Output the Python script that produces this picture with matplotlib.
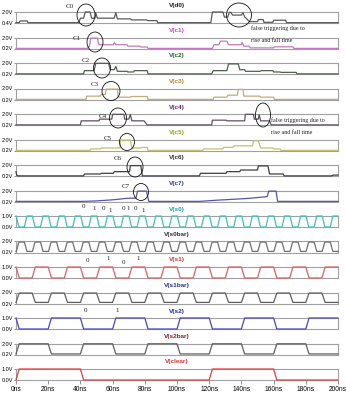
import matplotlib
matplotlib.use("Agg")
import matplotlib.pyplot as plt
from matplotlib.patches import Ellipse

plt.rcParams['font.family'] = ['Liberation Sans Narrow', 'Liberation Sans', 'DejaVu Sans']

W, H = 346, 400
X0, X1 = 16, 338          # pixel span of 0..200 ns
TOP0, STEP, BOX_H = 12, 25.5, 11

# decoder outputs, (ns, V) breakpoints
d0_t = [0, 2, 2.5, 7, 7.5, 39, 40, 42, 43, 46, 47, 49, 49.5, 50.5, 51, 61, 62, 63, 71, 72, 81, 82, 87.5, 88,
        121, 122, 128.5, 129.5, 131.5, 132.5, 133.5, 134.5, 140, 141, 142, 145, 150, 150.5, 153.5, 154,
        159.5, 160, 167.5, 168, 200]
d0_v = [0.45, 0.45, 0.7, 0.7, 0.45, 0.45, 1.1, 1.1, 2.0, 2.0, 1.1, 1.1, 1.9, 1.1, 1.1, 1.1, 1.9, 1.0, 1.0, 0.85,
        0.85, 0.75, 0.75, 0.45, 0.45, 2.0, 2.0, 1.25, 1.25, 1.95, 1.95, 1.55, 1.55, 1.9, 1.3, 0.6, 0.6, 0.9,
        0.9, 0.5, 0.5, 0.8, 0.8, 0.45, 0.45]

c1_t = [0, 44.5, 45, 45.5, 46.5, 50.5, 51.5, 60.5, 61, 62, 69, 69.5, 77, 77.5, 81.5, 82, 122, 123, 126, 127,
        131, 132, 140, 140.5, 141.5, 145, 145.5, 160, 160.5, 172, 172.5, 200]
c1_v = [0.22, 0.22, 0.45, 0.45, 1.9, 1.9, 0.82, 0.82, 1.2, 0.82, 0.82, 0.58, 0.58, 0.44, 0.44, 0.22, 0.22,
        0.82, 0.82, 1.4, 1.4, 0.82, 0.82, 1.2, 0.58, 0.58, 0.3, 0.3, 0.48, 0.48, 0.22, 0.22]

c2_t = [0, 42, 42.5, 48.5, 49.5, 57.5, 58.5, 61, 62, 63, 69, 69.5, 73, 73.5, 81.5, 82, 121.5, 122.5, 131, 132,
        138, 139, 142, 142.5, 151.5, 152.5, 159.5, 160, 164, 164.5, 174, 174.5, 200]
c2_v = [0.22, 0.22, 0.75, 0.75, 1.95, 1.95, 0.91, 0.91, 1.45, 0.64, 0.64, 0.53, 0.53, 0.75, 0.75, 0.22, 0.22,
        0.75, 0.75, 1.85, 1.85, 0.91, 0.91, 0.64, 0.64, 0.75, 0.75, 0.53, 0.53, 0.47, 0.47, 0.22, 0.22]

c3_t = [0, 43.5, 44, 52.5, 53, 55.5, 56, 63, 63.5, 71, 71.5, 81.5, 82, 122.5, 123, 131, 131.5, 137.5, 138,
        141, 141.5, 151.5, 152, 160, 160.5, 200]
c3_v = [0.22, 0.22, 0.75, 0.75, 1.02, 1.02, 1.9, 1.9, 0.58, 0.58, 0.69, 0.69, 0.22, 0.22, 0.58, 0.58, 0.91,
        0.91, 1.85, 1.85, 0.75, 0.75, 0.58, 0.58, 0.22, 0.22]

c4_t = [0, 40, 40.5, 51.5, 52, 59.5, 60, 67, 67.5, 70, 71, 72, 79.5, 81.5, 121.5, 122, 130.5, 131, 142, 142.5,
        147.5, 148, 150.5, 151, 152, 157.5, 158.5, 200]
c4_v = [0.22, 0.22, 0.88, 0.88, 1.16, 1.16, 1.95, 1.95, 1.16, 1.16, 1.9, 0.88, 0.88, 0.22, 0.22, 0.99, 0.99,
        0.88, 0.88, 1.95, 1.95, 1.16, 1.16, 1.9, 0.88, 0.88, 0.22, 0.22]

c5_t = [0, 46, 46.5, 52.5, 53, 64.5, 65, 71, 72, 77.5, 78, 81.5, 82, 116, 116.5, 128.5, 129, 135, 135.5, 147,
        147.5, 150.5, 152, 159.5, 160, 164, 164.5, 200]
c5_v = [0.22, 0.22, 0.46, 0.46, 0.61, 0.61, 1.9, 1.9, 0.61, 0.61, 0.71, 0.71, 0.22, 0.22, 0.46, 0.46, 0.71,
        0.71, 0.97, 0.97, 1.8, 1.8, 0.61, 0.61, 0.46, 0.46, 0.22, 0.22]

c6_t = [0, 0.5, 1, 42, 42.5, 52.5, 53, 60.5, 61, 70.5, 71, 77.5, 78.5, 114, 114.5, 130.5, 131, 139, 139.5, 150,
        150.5, 156.5, 157.5, 166, 166.5, 196, 197, 200]
c6_v = [0.9, 0.3, 0.22, 0.22, 0.53, 0.53, 0.64, 0.64, 0.91, 0.91, 1.9, 1.9, 0.22, 0.22, 0.64, 0.64, 0.91, 0.91,
        1.18, 1.18, 1.85, 1.85, 0.53, 0.53, 0.22, 0.22, 0.35, 0.35]

c7_t = [0, 42, 50, 56, 62, 68, 72, 74.5, 75.5, 81, 82.5, 114, 124, 134, 144, 152, 156, 157, 161.5, 162.5, 200]
c7_v = [0.22, 0.22, 0.3, 0.4, 0.52, 0.7, 0.75, 0.75, 1.9, 1.9, 0.22, 0.22, 0.4, 0.55, 0.7, 0.9, 1.0, 1.9, 1.9,
        0.22, 0.22]

# counter / control bits per time slot
s0_bits = [0, 1, 0, 1, 0, 1, 0, 1, 0, 1, 0, 1, 0, 1, 0, 1, 0, 1, 0, 1,
           0, 1, 0, 1, 0, 1, 0, 1, 0, 1, 0, 1, 0, 1, 0, 1, 0, 1, 0, 1]      # 5 ns slots
s1_bits = [0, 1, 0, 1, 0, 1, 0, 1, 0, 1, 0, 1, 0, 1, 0, 1, 0, 1, 0, 1]      # 10 ns slots
s2_bits = [0, 1, 0, 1, 0, 1, 0, 1, 0, 1]                                    # 20 ns slots
clear_bits = [1, 1, 0, 0, 0, 0, 1, 1, 0, 0]                                 # 20 ns slots


def pulse_train(bits, slot, lo, hi, start, delay=1.0, edge=2.0):
    lvl = [lo, hi]
    t, v = [0.0], [lvl[start]]
    prev = start
    for k, b in enumerate(bits):
        if b != prev:
            tb = k * slot + delay
            t += [tb - edge / 2, tb + edge / 2]
            v += [lvl[prev], lvl[b]]
            prev = b
    t.append(200.0)
    v.append(lvl[prev])
    return t, v


def inv(bits):
    return [1 - b for b in bits]


s0_t, s0_v = pulse_train(s0_bits, 5, 0.0, 1.0, 1, edge=1.6)
s0b_t, s0b_v = pulse_train(inv(s0_bits), 5, 0.2, 1.9, 0, edge=1.6)
s1_t, s1_v = pulse_train(s1_bits, 10, 0.0, 1.0, 1)
s1b_t, s1b_v = pulse_train(inv(s1_bits), 10, 0.2, 1.9, 0)
s2_t, s2_v = pulse_train(s2_bits, 20, 0.0, 1.0, 1)
s2b_t, s2b_v = pulse_train(inv(s2_bits), 20, 0.1, 1.95, 0)
clr_t, clr_v = pulse_train(clear_bits, 20, 0.0, 1.0, 0)

# title, title colour, trace colour, t, v, ymin, ymax, bottom label, top label
panels = [
    ("V(d0)", "#202020", "#5a5a5a", d0_t, d0_v, 0.4, 2.0, "0.4V", "2.0V"),
    ("V(c1)", "#cc44cc", "#c07ac0", c1_t, c1_v, 0.2, 2.0, "0.2V", "2.0V"),
    ("V(c2)", "#206020", "#4f5f4f", c2_t, c2_v, 0.2, 2.0, "0.2V", "2.0V"),
    ("V(c3)", "#c08030", "#c8a878", c3_t, c3_v, 0.2, 2.0, "0.2V", "2.0V"),
    ("V(c4)", "#602080", "#5e525e", c4_t, c4_v, 0.2, 2.0, "0.2V", "2.0V"),
    ("V(c5)", "#a0a020", "#c4c068", c5_t, c5_v, 0.2, 2.0, "0.2V", "2.0V"),
    ("V(c6)", "#303030", "#404040", c6_t, c6_v, 0.2, 2.0, "0.2V", "2.0V"),
    ("V(c7)", "#3030a0", "#5656a8", c7_t, c7_v, 0.2, 2.0, "0.2V", "2.0V"),
    ("V(s0)", "#20a0a0", "#40c0c0", s0_t, s0_v, 0.0, 1.0, "0.0V", "1.0V"),
    ("V(s0bar)", "#303030", "#707070", s0b_t, s0b_v, 0.0, 2.0, "0.2V", "2.0V"),
    ("V(s1)", "#e03030", "#e06060", s1_t, s1_v, 0.0, 1.0, "0.0V", "1.0V"),
    ("V(s1bar)", "#2030a0", "#606060", s1b_t, s1b_v, 0.0, 2.0, "0.2V", "2.0V"),
    ("V(s2)", "#2020c0", "#4848c0", s2_t, s2_v, 0.0, 1.0, "0.0V", "1.0V"),
    ("V(s2bar)", "#802020", "#606060", s2b_t, s2b_v, 0.0, 2.0, "0.2V", "2.0V"),
    ("V(clear)", "#e03030", "#e04040", clr_t, clr_v, 0.0, 1.0, "0.0V", "1.0V"),
]
time_ticks = [0, 20, 40, 60, 80, 100, 120, 140, 160, 180, 200]

fig = plt.figure(figsize=(W / 100, H / 100), dpi=100)
fig.patch.set_facecolor("white")

for i, (title, tcol, lcol, t, v, ymin, ymax, lab_lo, lab_hi) in enumerate(panels):
    top = TOP0 + STEP * i
    ax = fig.add_axes([X0 / W, 1 - (top + BOX_H) / H, (X1 - X0) / W, BOX_H / H])
    ax.plot(t, v, color=lcol, lw=0.9, clip_on=False, zorder=3)
    ax.set_xlim(0, 200)
    ax.set_ylim(ymin, ymax)
    for sp in ax.spines.values():
        sp.set_color("#a0a0a0")
        sp.set_linewidth(0.8)
    ax.set_yticks([ymin, ymax])
    ax.set_yticklabels([lab_lo, lab_hi])
    ax.tick_params(axis="y", length=1.8, width=0.6, color="#808080", labelsize=4.0, pad=0.5)
    if i == len(panels) - 1:
        ax.set_xticks(time_ticks)
        ax.set_xticklabels([f"{x}ns" for x in time_ticks])
        ax.tick_params(axis="x", length=3, width=0.6, color="#808080", labelsize=4.8, pad=1.5)
    else:
        ax.set_xticks([])
    fig.text(177 / W, 1 - (top - 7) / H, title, ha="center", va="center",
             fontsize=4.6, color=tcol, fontweight="bold")

# annotation layer in pixel coordinates
ov = fig.add_axes([0, 0, 1, 1])
ov.set_xlim(0, W)
ov.set_ylim(H, 0)
ov.axis("off")

rings = [(86, 15, 18, 22), (95, 42, 16, 20), (102, 68, 17, 20), (111, 91, 18, 19),
         (118, 118, 17, 20), (127, 142, 15, 17), (135, 167, 16, 20), (141, 192, 15, 17),
         (239, 15, 25, 24), (263, 115, 15, 24)]
for cx, cy, w, h in rings:
    ov.add_patch(Ellipse((cx, cy), w, h, fill=False, ec="#111111", lw=0.6))

serif = ["Liberation Serif", "DejaVu Serif"]
for name, x, y in [("C0", 70, 7), ("C1", 77, 38), ("C2", 86, 61), ("C3", 95, 85),
                   ("C4", 103, 117), ("C5", 108, 138), ("C6", 118, 158), ("C7", 126, 187)]:
    ov.text(x, y, name, fontsize=5, family=serif, ha="center", va="center", color="#222222")

for x, y in [(251, 28), (271, 120)]:
    ov.text(x, y, "false triggering due to", fontsize=4.3, family=serif, va="center", color="#222222")
    ov.text(x, y + 13, "rise and fall time", fontsize=4.3, family=serif, va="center", color="#222222")

bit_marks = [("0", 83, 207), ("1", 94, 209), ("0", 103, 209), ("1", 110, 211), ("0", 123, 208),
             ("1", 128, 209), ("0", 135, 209), ("1", 143, 211),
             ("0", 87, 261), ("1", 108, 258), ("0", 123, 263), ("1", 138, 259),
             ("0", 85, 310), ("1", 117, 310)]
for s, x, y in bit_marks:
    ov.text(x, y, s, fontsize=5, family=serif, ha="center", va="center", color="#222222")

fig.savefig("out.png", dpi=100)
